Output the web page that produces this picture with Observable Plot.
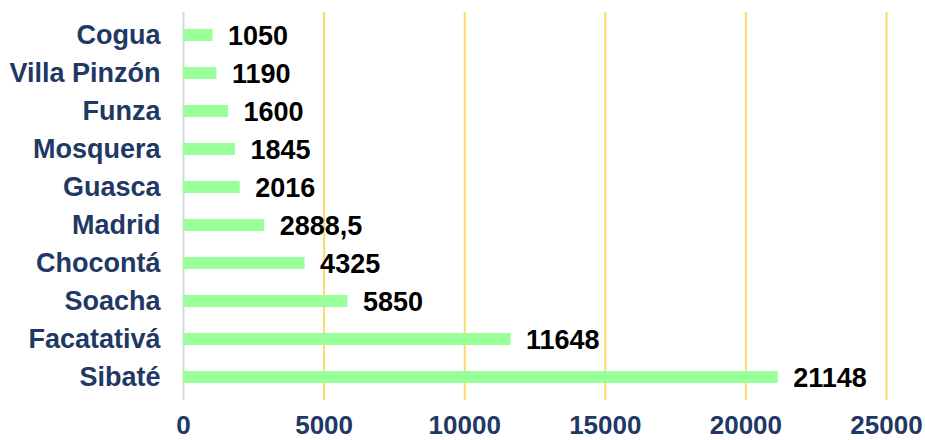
<!DOCTYPE html>
<html>
<head>
<meta charset="utf-8">
<script src="https://cdn.jsdelivr.net/npm/d3@7"></script>
<script src="https://cdn.jsdelivr.net/npm/@observablehq/plot@0.6"></script>
<style>
  html, body { margin: 0; padding: 0; background: #fff; }
  svg { font-family: "Liberation Sans", Arial, sans-serif; }
</style>
</head>
<body>
<div id="chart"></div>
<script>
const municipios = ["Cogua", "Villa Pinzón", "Funza", "Mosquera", "Guasca", "Madrid", "Chocontá", "Soacha", "Facatativá", "Sibaté"];
const valores = [1050, 1190, 1600, 1845, 2016, 2888.5, 4325, 5850, 11648, 21148];
const xTicks = [0, 5000, 10000, 15000, 20000, 25000];

const data = municipios.map((m, i) => ({ municipio: m, valor: valores[i] }));
const fmt = v => String(v).replace(".", ",");

const chart = Plot.plot({
  width: 925,
  height: 440,
  marginLeft: 183,
  marginRight: 39,
  marginTop: 12,
  marginBottom: 40,
  style: { fontFamily: "Liberation Sans, Arial, sans-serif", background: "#fff" },
  x: { domain: [0, 25000], ticks: xTicks, label: null },
  y: { domain: municipios, label: null, paddingInner: 0.68, paddingOuter: 0.34 },
  marks: [
    Plot.ruleX(xTicks.filter(d => d > 0), { stroke: "#FFD966", strokeWidth: 2 }),
    Plot.ruleX([0], { stroke: "#D9D9D9", strokeWidth: 2 }),
    Plot.barX(data, { x: "valor", y: "municipio", fill: "#99FF99" }),
    Plot.text(data, {
      x: "valor", y: "municipio", text: d => fmt(d.valor),
      textAnchor: "start", dx: 15, dy: 1,
      fontSize: 27, fontWeight: "bold", fill: "#000"
    }),
    Plot.axisY({ tickSize: 0, tickPadding: 23, fontSize: 27, fontWeight: "bold", fill: "#1F3864", label: null }),
    Plot.axisX({ ticks: xTicks, tickSize: 0, tickPadding: 15, fontSize: 26, fontWeight: "bold", fill: "#1F3864", label: null, tickFormat: d => String(d) })
  ]
});
document.getElementById("chart").appendChild(chart);
</script>
</body>
</html>
